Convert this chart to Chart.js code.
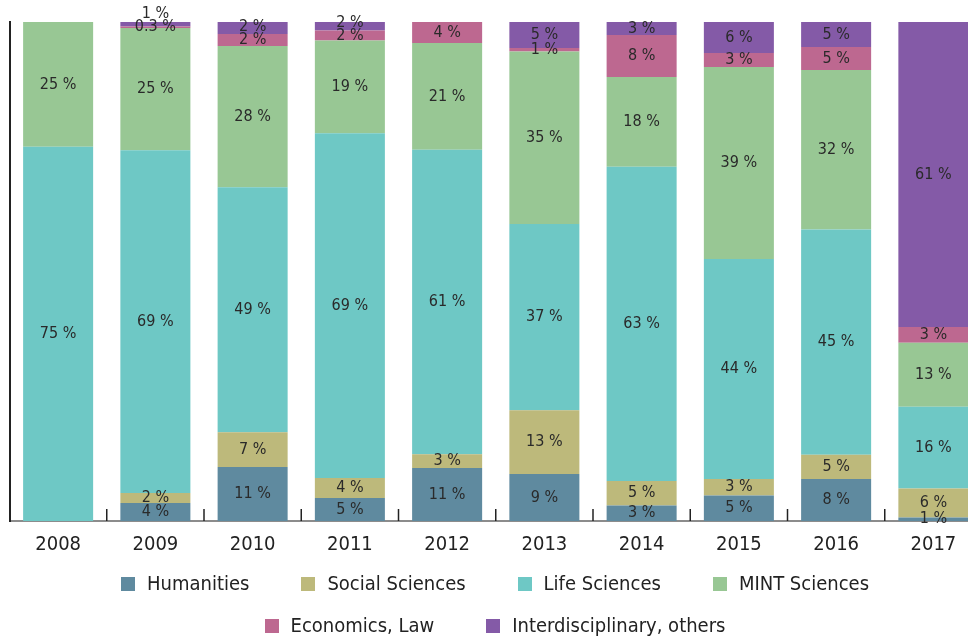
<!DOCTYPE html>
<html>
<head>
<meta charset="utf-8">
<script src="https://cdn.jsdelivr.net/npm/chart.js@4/dist/chart.umd.min.js"></script>
<style>
  html, body { margin: 0; padding: 0; background: #fff; overflow: hidden; }
  #wrap { width: 984px; }
  #chart { display: block; }
  #chartLegend {
    width: 860px;
    margin: -7px auto 0;
    padding-left: 6px;
    text-align: center;
    font: 20px "DejaVu Sans Condensed", "Liberation Sans Narrow", sans-serif;
    color: #222;
    line-height: 42px;
  }
  .item { display: inline-block; margin: 0 26px; white-space: nowrap; }
  .box { display: inline-block; width: 14px; height: 14px; margin-right: 12px; vertical-align: -1px; }
</style>
</head>
<body>
<div id="wrap">
  <canvas id="chart" width="984" height="569"></canvas>
  <div id="chartLegend"></div>
</div>
<script>
const years = ["2008", "2009", "2010", "2011", "2012", "2013", "2014", "2015", "2016", "2017"]

// parts per year in %
const humanities        = [0,  3.6, 10.8,  4.6, 10.6,  9.4,  3.1,  5.1,  8.4,  0.7]
const socialSciences    = [0,  2.0,  7.0,  4.0,  2.8, 12.8,  4.9,  3.3,  4.9,  5.8]
const lifeSciences      = [75, 68.7, 49.1, 69.1, 61.0, 37.3, 63.0, 44.1, 45.1, 16.4]
const mintSciences      = [25, 24.5, 28.3, 18.6, 21.4, 34.6, 18.0, 38.5, 32.0, 12.8]
const economicsLaw      = [0,  0.3,  2.4,  2.0,  4.2,  0.7,  8.4,  2.8,  4.6,  3.2]
const interdisciplinary = [0,  0.9,  2.4,  1.7,  0,    5.2,  2.6,  6.2,  5.0, 61.1]

const seriesNames  = ["Humanities", "Social Sciences", "Life Sciences", "MINT Sciences", "Economics, Law", "Interdisciplinary, others"]
const seriesColors = ["#5f8a9f", "#bdb97b", "#6ec8c5", "#98c794", "#bd6890", "#845aa7"]
const seriesData   = [humanities, socialSciences, lifeSciences, mintSciences, economicsLaw, interdisciplinary]

const FONT = '"DejaVu Sans Condensed", "Liberation Sans Narrow", sans-serif'

const fmt = v => (v < 0.5 ? v.toFixed(1) : Math.round(v)) + " %"

// labels in the middle of each segment, pushed up a bit when they would overlap
const segmentLabels = {
  id: "segmentLabels",
  afterDatasetsDraw(chart) {
    const ctx = chart.ctx
    ctx.save()
    ctx.font = "16px " + FONT
    ctx.fillStyle = "#2a2a2a"
    ctx.textAlign = "center"
    ctx.textBaseline = "middle"
    years.forEach((_, i) => {
      let lastY = null
      chart.data.datasets.forEach((ds, d) => {
        const v = ds.data[i]
        if (!v) return
        const bar = chart.getDatasetMeta(d).data[i].getProps(["x", "y", "base"], true)
        let y = (bar.y + bar.base) / 2
        if (lastY !== null && lastY - y < 13) y = lastY - 13
        ctx.fillText(fmt(v), bar.x, y)
        lastY = y
      })
    })
    ctx.restore()
  }
}

// short upward marks between the categories
const categoryMarks = {
  id: "categoryMarks",
  afterDraw(chart) {
    const x = chart.scales.x
    const bottom = chart.chartArea.bottom
    const ctx = chart.ctx
    ctx.save()
    ctx.strokeStyle = "#222"
    ctx.lineWidth = 1.5
    for (let i = 1; i < years.length; i++) {
      const px = (x.getPixelForValue(i - 1) + x.getPixelForValue(i)) / 2
      ctx.beginPath()
      ctx.moveTo(px, bottom - 12)
      ctx.lineTo(px, bottom)
      ctx.stroke()
    }
    ctx.restore()
  }
}

const chart = new Chart(document.getElementById("chart"), {
  type: "bar",
  data: {
    labels: years,
    datasets: seriesNames.map((name, k) => ({
      label: name,
      data: seriesData[k],
      backgroundColor: seriesColors[k],
      borderWidth: 0,
      barPercentage: 0.72,
      categoryPercentage: 1
    }))
  },
  options: {
    responsive: false,
    animation: false,
    layout: { padding: { top: 22, left: 9.5, right: 2, bottom: 0 } },
    plugins: {
      legend: { display: false },
      tooltip: { enabled: false }
    },
    scales: {
      x: {
        stacked: true,
        grid: { display: false, drawTicks: false },
        border: { color: "#8c8c8c", width: 2 },
        ticks: { color: "#222", padding: 12, font: { size: 20, family: FONT } }
      },
      y: {
        stacked: true,
        min: 0,
        max: 100,
        grid: { display: false, drawTicks: false },
        border: { color: "#222", width: 2 },
        ticks: { display: false }
      }
    }
  },
  plugins: [segmentLabels, categoryMarks]
})

function renderLegend() {
  const box = document.getElementById("chartLegend")
  box.innerHTML = ""
  seriesNames.forEach((name, k) => {
    const item = document.createElement("span")
    item.className = "item"
    const swatch = document.createElement("span")
    swatch.className = "box"
    swatch.style.backgroundColor = seriesColors[k]
    item.appendChild(swatch)
    item.appendChild(document.createTextNode(name))
    box.appendChild(item)
  })
}
renderLegend()
</script>
</body>
</html>
